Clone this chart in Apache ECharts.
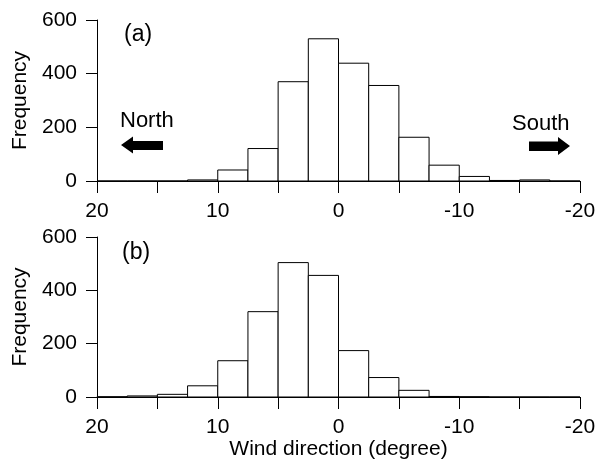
<!DOCTYPE html>
<html>
<head>
<meta charset="utf-8">
<script src="https://cdn.jsdelivr.net/npm/echarts@6/dist/echarts.min.js"></script>
<style>
  html, body { margin: 0; padding: 0; background: #fff; }
  #chart { width: 606px; height: 466px; }
</style>
</head>
<body>
<div id="chart"></div>
<script>
// Histogram bins (degrees), listed from 20 down to -20, each 2.5 wide
const binStart = [20, 17.5, 15, 12.5, 10, 7.5, 5, 2.5, 0, -2.5, -5, -7.5, -10, -12.5, -15, -17.5];
const binEnd   = [17.5, 15, 12.5, 10, 7.5, 5, 2.5, 0, -2.5, -5, -7.5, -10, -12.5, -15, -17.5, -20];

// Frequencies per bin
const freqA = [0, 0, 0, 4, 41, 121, 370, 530, 439, 356, 163, 59, 17, 2, 4, 0];
const freqB = [1, 4, 10, 42, 136, 320, 504, 456, 174, 73, 25, 2, 1, 0, 0, 0];

// Axis ticks
const xTickLabels = [20, 10, 0, -10, -20];
const yTicks = [0, 200, 400, 600];

const FONT = "'Liberation Sans', Arial, sans-serif";
const FS = 21;

function histData(vals) {
  return vals.map((v, i) => [binStart[i], binEnd[i], v]);
}

function renderBar(params, api) {
  const v = api.value(2);
  const p0 = api.coord([api.value(0), v]);
  const p1 = api.coord([api.value(1), 0]);
  const x = Math.min(p0[0], p1[0]);
  const w = Math.abs(p1[0] - p0[0]);
  const y = p0[1];
  const h = p1[1] - p0[1];
  return {
    type: 'rect',
    shape: { x: x, y: y, width: w, height: h },
    style: { fill: '#fff', stroke: '#000', lineWidth: 1 }
  };
}

function xAxisCfg(gridIndex, withName) {
  return {
    type: 'value', gridIndex: gridIndex, inverse: true,
    min: -20, max: 20, interval: 5,
    axisLine: { show: true, onZero: false, lineStyle: { color: '#000', width: 1 } },
    axisTick: { show: true, inside: false, length: 12, lineStyle: { color: '#000', width: 1 } },
    axisLabel: {
      margin: 20, color: '#000', fontFamily: FONT, fontSize: FS,
      formatter: v => (xTickLabels.indexOf(v) >= 0 ? String(v) : '')
    },
    splitLine: { show: false },
    name: withName ? 'Wind direction (degree)' : '',
    nameLocation: 'middle', nameGap: 42,
    nameTextStyle: { color: '#000', fontFamily: FONT, fontSize: FS }
  };
}

function yAxisCfg(gridIndex) {
  return {
    type: 'value', gridIndex: gridIndex, position: 'left',
    min: yTicks[0], max: yTicks[yTicks.length - 1], interval: 200,
    axisLine: { show: true, onZero: false, lineStyle: { color: '#000', width: 1 } },
    axisTick: { show: true, inside: false, length: 11, lineStyle: { color: '#000', width: 1 } },
    axisLabel: { margin: 20, color: '#000', fontFamily: FONT, fontSize: FS },
    splitLine: { show: false },
    name: 'Frequency', nameLocation: 'middle', nameGap: 62,
    nameTextStyle: { color: '#000', fontFamily: FONT, fontSize: FS }
  };
}

const chart = echarts.init(document.getElementById('chart'), null, { renderer: 'canvas' });

chart.setOption({
  animation: false,
  backgroundColor: '#fff',
  grid: [
    { left: 97, top: 20, width: 483, height: 161 },
    { left: 97, top: 237, width: 483, height: 160 }
  ],
  xAxis: [xAxisCfg(0, false), xAxisCfg(1, true)],
  yAxis: [yAxisCfg(0), yAxisCfg(1)],
  series: [
    { type: 'custom', xAxisIndex: 0, yAxisIndex: 0, renderItem: renderBar,
      encode: { x: [0, 1], y: 2 }, data: histData(freqA), silent: true },
    { type: 'custom', xAxisIndex: 1, yAxisIndex: 1, renderItem: renderBar,
      encode: { x: [0, 1], y: 2 }, data: histData(freqB), silent: true }
  ],
  graphic: [
    { type: 'text', left: 124, top: 23,
      style: { text: '(a)', font: '23px ' + FONT, fill: '#000' } },
    { type: 'text', left: 122, top: 241,
      style: { text: '(b)', font: '23px ' + FONT, fill: '#000' } },
    { type: 'text', left: 120, top: 110,
      style: { text: 'North', font: '22px ' + FONT, fill: '#000' } },
    { type: 'text', left: 512, top: 113,
      style: { text: 'South', font: '22px ' + FONT, fill: '#000' } },
    // left-pointing arrow under "North"
    { type: 'polygon',
      shape: { points: [[121, 145], [133, 136.5], [133, 141], [163, 141], [163, 150], [133, 150], [133, 153.5]] },
      style: { fill: '#000' } },
    // right-pointing arrow under "South"
    { type: 'polygon',
      shape: { points: [[570, 146], [558, 137], [558, 141.5], [529, 141.5], [529, 151], [558, 151], [558, 155]] },
      style: { fill: '#000' } }
  ]
});
</script>
</body>
</html>
